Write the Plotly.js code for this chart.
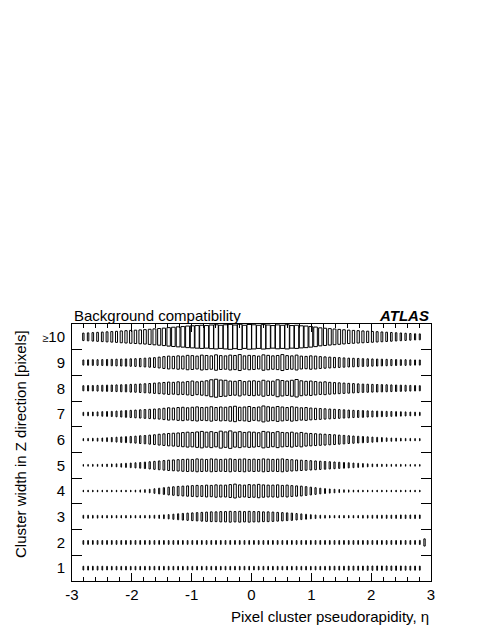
<!DOCTYPE html>
<html><head><meta charset="utf-8">
<script src="https://cdn.plot.ly/plotly-3.0.1.min.js"></script>
<style>html,body{margin:0;padding:0;background:#fff}#chart{width:490px;height:634px}</style>
</head><body><div id="chart"></div>
<script>
// Bin definition along eta
const etaLow = -2.85, etaBinWidth = 0.0792, nBins = 73;
const etaCenters = Array.from({length: nBins}, (_, i) => +(etaLow + (i + 0.5) * etaBinWidth).toFixed(4));

// Cluster width categories (rows) and labels
const widthRows = [1, 2, 3, 4, 5, 6, 7, 8, 9, 10];
const widthLabels = ["1", "2", "3", "4", "5", "6", "7", "8", "9", "<span style='font-size:11px'>≥</span>10"];

// Relative box sizes (normalised bin content) per cluster-width row
const row1 = [0.15,0.15,0.15,0.15,0.15,0.14,0.14,0.14,0.14,0.14, 0.14,0.14,0.14,0.14,0.14,0.14,0.14,0.14,0.14,0.14, 0.14,0.14,0.14,0.14,0.14,0.14,0.14,0.14,0.14,0.14, 0.14,0.14,0.14,0.14,0.14,0.14,0.14,0.14,0.14,0.14, 0.14,0.14,0.14,0.14,0.14,0.14,0.14,0.14,0.14,0.14, 0.14,0.14,0.15,0.15,0.15,0.15,0.16,0.16,0.16,0.16, 0.17,0.17,0.17,0.17,0.17,0.17,0.17,0.17,0.16,0.16,0.16,0.16];
const row2 = [0.15,0.15,0.15,0.15,0.15,0.15,0.15,0.15,0.15,0.15, 0.15,0.15,0.15,0.15,0.15,0.15,0.15,0.15,0.15,0.15, 0.15,0.15,0.15,0.15,0.15,0.15,0.15,0.15,0.15,0.15, 0.15,0.15,0.15,0.15,0.15,0.15,0.15,0.15,0.15,0.15, 0.15,0.15,0.15,0.15,0.15,0.15,0.15,0.15,0.15,0.15, 0.15,0.15,0.15,0.15,0.15,0.15,0.15,0.15,0.15,0.15, 0.15,0.15,0.15,0.15,0.15,0.15,0.15,0.15,0.15,0.15,0.15,0.16, 0.28];
const row3 = [0.12,0.12,0.11,0.11,0.10,0.10,0.10,0.10,0.10,0.10, 0.10,0.10,0.10,0.10,0.11,0.12,0.13,0.15,0.17,0.20, 0.23,0.26,0.28,0.30,0.32,0.34,0.36,0.38,0.38,0.40, 0.40,0.42,0.40,0.42,0.40,0.42,0.40,0.40,0.38,0.38, 0.36,0.34,0.32,0.30,0.28,0.25,0.22,0.19,0.16,0.14, 0.12,0.11,0.10,0.10,0.10,0.10,0.10,0.10,0.10,0.11, 0.11,0.12,0.12,0.12,0.13,0.13,0.13,0.14,0.14,0.14,0.14,0.14];
const row4 = [0.07,0.07,0.07,0.07,0.07,0.07,0.07,0.07,0.07,0.07, 0.07,0.08,0.09,0.11,0.14,0.18,0.22,0.26,0.30,0.33, 0.36,0.38,0.40,0.42,0.44,0.42,0.46,0.44,0.48,0.46, 0.46,0.50,0.54,0.48,0.46,0.50,0.48,0.52,0.48,0.46, 0.46,0.48,0.44,0.46,0.42,0.40,0.38,0.34,0.30,0.26, 0.22,0.19,0.16,0.14,0.12,0.10,0.09,0.08,0.08,0.07, 0.07,0.07,0.07,0.07,0.07,0.07,0.07,0.07,0.07,0.07,0.07,0.07];
const row5 = [0.07,0.07,0.08,0.08,0.09,0.10,0.11,0.12,0.14,0.16, 0.18,0.20,0.22,0.25,0.28,0.31,0.34,0.37,0.40,0.42, 0.44,0.46,0.48,0.46,0.50,0.48,0.46,0.50,0.48,0.46, 0.48,0.50,0.46,0.48,0.50,0.46,0.48,0.46,0.50,0.48, 0.46,0.48,0.50,0.46,0.44,0.42,0.40,0.38,0.36,0.34, 0.32,0.30,0.28,0.26,0.24,0.22,0.20,0.18,0.16,0.14, 0.12,0.11,0.10,0.09,0.09,0.08,0.08,0.08,0.07,0.07,0.07,0.07];
const row6 = [0.09,0.10,0.11,0.12,0.13,0.15,0.17,0.19,0.21,0.23, 0.25,0.27,0.30,0.32,0.35,0.38,0.42,0.45,0.48,0.50, 0.52,0.55,0.58,0.56,0.60,0.64,0.58,0.62,0.56,0.66, 0.60,0.68,0.58,0.62,0.56,0.60,0.58,0.54,0.64,0.60, 0.55,0.62,0.56,0.54,0.58,0.52,0.56,0.50,0.48,0.46, 0.44,0.42,0.40,0.38,0.35,0.33,0.30,0.28,0.26,0.24, 0.22,0.20,0.18,0.16,0.14,0.13,0.12,0.11,0.10,0.10,0.09,0.09];
const row7 = [0.13,0.14,0.15,0.16,0.18,0.19,0.20,0.22,0.24,0.26, 0.28,0.30,0.32,0.34,0.36,0.38,0.40,0.44,0.48,0.46, 0.50,0.52,0.48,0.52,0.55,0.50,0.52,0.56,0.50,0.54, 0.52,0.56,0.60,0.52,0.54,0.58,0.50,0.54,0.62,0.56, 0.52,0.58,0.54,0.50,0.56,0.52,0.48,0.50,0.46,0.44, 0.42,0.40,0.38,0.36,0.34,0.32,0.30,0.28,0.27,0.26, 0.24,0.23,0.22,0.21,0.20,0.19,0.18,0.17,0.16,0.15,0.14,0.13];
const row8 = [0.20,0.21,0.21,0.22,0.23,0.24,0.25,0.26,0.27,0.28, 0.30,0.31,0.33,0.35,0.37,0.40,0.42,0.45,0.48,0.46, 0.50,0.48,0.52,0.56,0.50,0.54,0.58,0.66,0.70,0.64, 0.62,0.56,0.54,0.60,0.52,0.56,0.58,0.54,0.62,0.56, 0.55,0.66,0.60,0.56,0.62,0.68,0.58,0.54,0.56,0.52, 0.48,0.50,0.46,0.44,0.42,0.40,0.38,0.36,0.34,0.32, 0.31,0.30,0.29,0.28,0.27,0.26,0.25,0.24,0.23,0.22,0.21,0.20];
const row9 = [0.20,0.21,0.22,0.22,0.23,0.24,0.25,0.26,0.27,0.28, 0.29,0.30,0.32,0.34,0.36,0.38,0.42,0.46,0.50,0.48, 0.52,0.50,0.56,0.54,0.50,0.58,0.55,0.52,0.60,0.54, 0.52,0.58,0.55,0.62,0.52,0.56,0.54,0.50,0.60,0.56, 0.52,0.55,0.62,0.54,0.52,0.58,0.50,0.48,0.52,0.50, 0.46,0.44,0.42,0.40,0.38,0.36,0.34,0.33,0.32,0.30, 0.29,0.28,0.27,0.26,0.25,0.24,0.23,0.22,0.22,0.21,0.20,0.20];
const row10 = [0.29,0.31,0.33,0.35,0.37,0.39,0.41,0.43,0.46,0.48, 0.50,0.52,0.54,0.56,0.59,0.62,0.65,0.68,0.72,0.75, 0.78,0.80,0.84,0.86,0.88,0.90,0.88,0.92,0.94,0.90, 0.94,0.97,0.92,0.98,0.90,0.96,0.94,0.90,0.95,0.92, 0.88,0.93,0.90,0.94,0.88,0.90,0.86,0.84,0.80,0.76, 0.70,0.67,0.64,0.61,0.58,0.55,0.52,0.50,0.48,0.46, 0.44,0.42,0.40,0.38,0.36,0.34,0.32,0.30,0.28,0.26,0.24,0.23];

const rowValues = [row1,row2,row3,row4,row5,row6,row7,row8,row9,row10];

const traces = rowValues.map((vals, k) => ({
  type: 'bar',
  x: etaCenters.slice(0, vals.length),
  y: vals,
  base: vals.map(v => widthRows[k] - v / 2),
  width: vals.map(v => etaBinWidth * v),
  marker: {color: 'rgba(255,255,255,0)', line: {color: '#000', width: 1}},
  hoverinfo: 'skip',
  showlegend: false
}));

const font = {family: 'Liberation Sans, Arial, Helvetica, sans-serif', size: 15, color: '#000'};

const layout = {
  width: 490, height: 634,
  margin: {l: 72, r: 59, t: 324, b: 53, pad: 0},
  paper_bgcolor: '#fff', plot_bgcolor: '#fff',
  font: font,
  barmode: 'overlay',
  showlegend: false,
  hovermode: false,
  xaxis: {
    range: [-3, 3], tickmode: 'array', tickvals: [-3,-2,-1,0,1,2,3], ticktext: ['-3','-2','-1','0','1','2','3'],
    ticks: 'inside', ticklen: 8, tickwidth: 1, tickcolor: '#000',
    minor: {dtick: 0.2, tick0: 0, ticks: 'inside', ticklen: 4, tickwidth: 1, tickcolor: '#000', showgrid: false},
    showline: true, linecolor: '#000', linewidth: 1, mirror: 'allticks',
    showgrid: false, zeroline: false, tickfont: font, fixedrange: true
  },
  yaxis: {
    range: [0.5, 10.5], tickmode: 'array', tickvals: widthRows, ticktext: widthLabels,
    ticks: '', ticklen: 0,
    minor: {tickmode: 'array', tickvals: [1.5,2.5,3.5,4.5,5.5,6.5,7.5,8.5,9.5], ticks: 'inside', ticklen: 10, tickwidth: 1, tickcolor: '#000', showgrid: false},
    showline: true, linecolor: '#000', linewidth: 1, mirror: 'allticks',
    showgrid: false, zeroline: false, tickfont: font, fixedrange: true, ticklabelstandoff: 3
  },
  annotations: [
    {text: 'Pixel cluster pseudorapidity, η', xref: 'paper', yref: 'paper', x: 1, y: -0.14, xanchor: 'right', yanchor: 'middle', showarrow: false, font: font},
    {text: 'Cluster width in Z direction [pixels]', xref: 'paper', yref: 'paper', x: -0.145, y: 0.533, xanchor: 'center', yanchor: 'middle', textangle: -90, showarrow: false, font: font},
    {text: 'Background compatibility', xref: 'paper', yref: 'paper', x: 0, y: 1.035, xanchor: 'left', yanchor: 'middle', showarrow: false, font: font},
    {text: '<b><i>ATLAS</i></b>', xref: 'paper', yref: 'paper', x: 1, y: 1.035, xanchor: 'right', yanchor: 'middle', showarrow: false, font: font}
  ]
};

Plotly.newPlot('chart', traces, layout, {staticPlot: true, displayModeBar: false});
</script>
</body></html>
